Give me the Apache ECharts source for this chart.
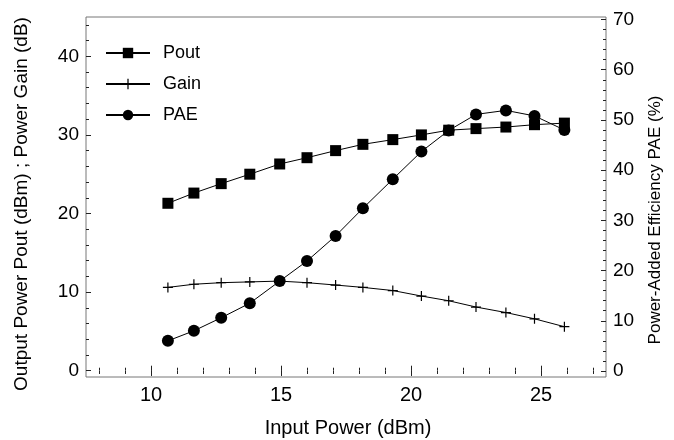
<!DOCTYPE html>
<html><head><meta charset="utf-8">
<script src="https://cdn.jsdelivr.net/npm/echarts@6/dist/echarts.min.js"></script>
<style>html,body{margin:0;padding:0;background:#fff}#c{width:674px;height:440px}</style>
</head><body><div id="c"></div>
<script>
// ---- data ----
var inputPower = [10.65, 11.65, 12.7, 13.8, 14.95, 16.0, 17.1, 18.15, 19.3, 20.4, 21.45, 22.5, 23.65, 24.75, 25.9];
var pout = [21.3, 22.6, 23.8, 25.0, 26.3, 27.1, 28.0, 28.8, 29.4, 30.0, 30.6, 30.8, 31.0, 31.3, 31.5];
var gain = [10.6, 11.0, 11.2, 11.3, 11.4, 11.2, 10.9, 10.6, 10.2, 9.5, 8.9, 8.1, 7.4, 6.6, 5.6];
var pae = [6.0, 8.0, 10.6, 13.5, 17.9, 21.9, 26.9, 32.4, 38.2, 43.7, 47.9, 51.1, 51.9, 50.8, 48.0];
// ---- tick values ----
var xMajor = [10, 15, 20, 25];
var xMinor = [8, 9, 10, 11, 12, 13, 14, 15, 16, 17, 18, 19, 20, 21, 22, 23, 24, 25, 26, 27];
var yLeftMajor = [0, 10, 20, 30, 40];
var yLeftMinor = [0, 2, 4, 6, 8, 10, 12, 14, 16, 18, 20, 22, 24, 26, 28, 30, 32, 34, 36, 38, 40, 42, 44];
var yRightMajor = [0, 10, 20, 30, 40, 50, 60, 70];
var yRightMinor = [0, 2, 4, 6, 8, 10, 12, 14, 16, 18, 20, 22, 24, 26, 28, 30, 32, 34, 36, 38, 40, 42, 44, 46, 48, 50, 52, 54, 56, 58, 60, 62, 64, 66, 68, 70];
// ---- texts ----
var xTitle = 'Input Power (dBm)';
var yLeftTitle = 'Output Power Pout (dBm) ; Power Gain (dB)';
var yRightTitle = 'Power-Added Efficiency PAE (%)';

function zip(a, b) { return a.map(function (v, i) { return [v, b[i]]; }); }

var FONT = 'Liberation Sans';
var plusPath = 'path://M4.4,0 H5.6 V4.4 H10 V5.6 H5.6 V10 H4.4 V5.6 H0 V4.4 H4.4 Z';
var X = { min: 7.5, max: 27.5 };
var YL = { min: -0.8, max: 45 };
var YR = { min: -1.2, max: 70.5 };

function xAx(pos, ticks, len, labels) {
  return {
    type: 'value', position: pos, min: X.min, max: X.max,
    axisLine: { show: false }, splitLine: { show: false },
    axisTick: { show: true, inside: true, length: len, customValues: ticks, lineStyle: { color: '#222', width: 1 } },
    axisLabel: labels ? { show: true, customValues: labels, margin: 8, color: '#000', fontSize: 20, fontFamily: FONT } : { show: false }
  };
}
function yAx(pos, ext, ticks, len, labels) {
  return {
    type: 'value', position: pos, min: ext.min, max: ext.max, offset: 0,
    axisLine: { show: false }, splitLine: { show: false },
    axisTick: { show: true, inside: true, length: len, customValues: ticks, lineStyle: { color: '#222', width: 1 } },
    axisLabel: labels ? { show: true, customValues: labels, margin: 7, color: '#000', fontSize: 19, fontFamily: FONT } : { show: false }
  };
}

var chart = echarts.init(document.getElementById('c'), null, { renderer: 'canvas' });
chart.setOption({
  animation: false,
  backgroundColor: '#fff',
  grid: { left: 86, top: 17, width: 520, height: 360, show: true, borderColor: '#777', borderWidth: 1, backgroundColor: 'transparent' },
  legend: {
    orient: 'vertical', left: 105, top: 44, itemWidth: 44, itemHeight: 13, itemGap: 13,
    padding: 0,
    textStyle: { color: '#000', fontSize: 18, fontFamily: FONT, padding: [0, 0, 0, 8] },
    data: ['Pout', 'Gain', 'PAE']
  },
  graphic: [
    { type: 'text', x: 348, y: 428, style: { text: xTitle, fontSize: 20, fontFamily: FONT, fill: '#000', align: 'center', verticalAlign: 'middle' } },
    { type: 'text', x: 22, y: 204, rotation: Math.PI / 2, style: { text: yLeftTitle, fontSize: 19, fontFamily: FONT, fill: '#000', align: 'center', verticalAlign: 'middle' } },
    { type: 'text', x: 655, y: 220, rotation: Math.PI / 2, style: { text: yRightTitle, fontSize: 17, fontFamily: FONT, fill: '#000', align: 'center', verticalAlign: 'middle' } }
  ],
  xAxis: [
    xAx('bottom', xMajor, 5, xMajor),
    xAx('bottom', xMinor, 3, null),
    xAx('top', xMajor, 5, null),
    xAx('top', xMinor, 3, null)
  ],
  yAxis: [
    yAx('left', YL, yLeftMajor, 5, yLeftMajor),
    yAx('left', YL, yLeftMinor, 3, null),
    yAx('right', YR, yRightMajor, 5, yRightMajor),
    yAx('right', YR, yRightMinor, 3, null)
  ],
  series: [
    { name: 'Pout', type: 'line', xAxisIndex: 0, yAxisIndex: 0, data: zip(inputPower, pout),
      symbol: 'rect', symbolSize: 11, showAllSymbol: true,
      lineStyle: { color: '#000', width: 1 }, itemStyle: { color: '#000' }, z: 3 },
    { name: 'Gain', type: 'line', xAxisIndex: 0, yAxisIndex: 0, data: zip(inputPower, gain),
      symbol: plusPath, symbolSize: 10, showAllSymbol: true,
      lineStyle: { color: '#000', width: 1 }, itemStyle: { color: '#000' }, z: 2 },
    { name: 'PAE', type: 'line', xAxisIndex: 0, yAxisIndex: 2, data: zip(inputPower, pae),
      symbol: 'circle', symbolSize: 12, showAllSymbol: true,
      lineStyle: { color: '#000', width: 1 }, itemStyle: { color: '#000' }, z: 4 }
  ]
});
</script>
</body></html>
